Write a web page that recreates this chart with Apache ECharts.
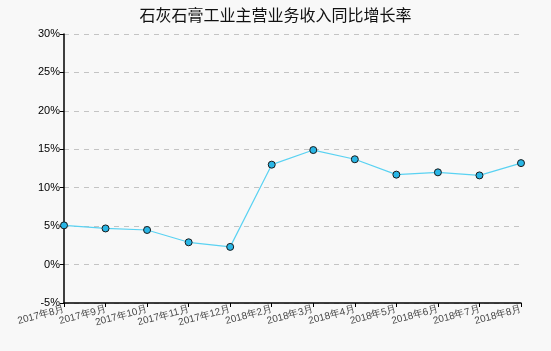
<!DOCTYPE html>
<html>
<head>
<meta charset="utf-8">
<script src="https://cdn.jsdelivr.net/npm/echarts@6/dist/echarts.min.js"></script>
<style>
  html, body { margin: 0; padding: 0; background: #f8f8f8; }
  #lineChart { width: 551px; height: 351px; }
</style>
</head>
<body>
<div id="lineChart"></div>
<script>
// 月份
const months = ['2017年8月', '2017年9月', '2017年10月', '2017年11月', '2017年12月', '2018年2月',
  '2018年3月', '2018年4月', '2018年5月', '2018年6月', '2018年7月', '2018年8月']
// 同比增长率 (%)
const growthRate = [5.1, 4.7, 4.5, 2.9, 2.3, 13.0, 14.9, 13.7, 11.7, 12.0, 11.6, 13.2]
const yTicks = { min: -5, max: 30, step: 5 }

const chart = echarts.init(document.getElementById('lineChart'))
const option = {
  backgroundColor: '#f8f8f8',
  animation: false,
  title: {
    text: '石灰石膏工业主营业务收入同比增长率',
    left: 'center',
    top: 2,
    textStyle: { fontSize: 16, fontWeight: 'normal', color: '#111', fontFamily: 'Noto Sans CJK SC' }
  },
  grid: { left: 64, right: 30, top: 34, bottom: 48 },
  xAxis: {
    type: 'category',
    boundaryGap: false,
    data: months,
    axisLine: { onZero: false, lineStyle: { color: '#000', width: 1.5 } },
    axisTick: { length: 4, lineStyle: { color: '#000' } },
    axisLabel: {
      interval: 0,
      rotate: 15,
      fontSize: 10,
      color: '#444',
      margin: 6
    }
  },
  yAxis: {
    type: 'value',
    min: yTicks.min,
    max: yTicks.max,
    interval: yTicks.step,
    axisLine: { show: true, lineStyle: { color: '#000', width: 1.5 } },
    axisTick: { show: true, length: 4, lineStyle: { color: '#000' } },
    axisLabel: { formatter: '{value}%', fontSize: 11, color: '#000', margin: 4 },
    splitLine: { lineStyle: { color: '#c4c4c4', type: [5, 5] } }
  },
  series: [
    {
      type: 'line',
      data: growthRate,
      symbol: 'circle',
      symbolSize: 7,
      lineStyle: { color: '#5ad2f2', width: 1.2 },
      itemStyle: { color: '#29b6e6', borderColor: '#1a1a1a', borderWidth: 1 }
    }
  ]
}
chart.setOption(option)
</script>
</body>
</html>
